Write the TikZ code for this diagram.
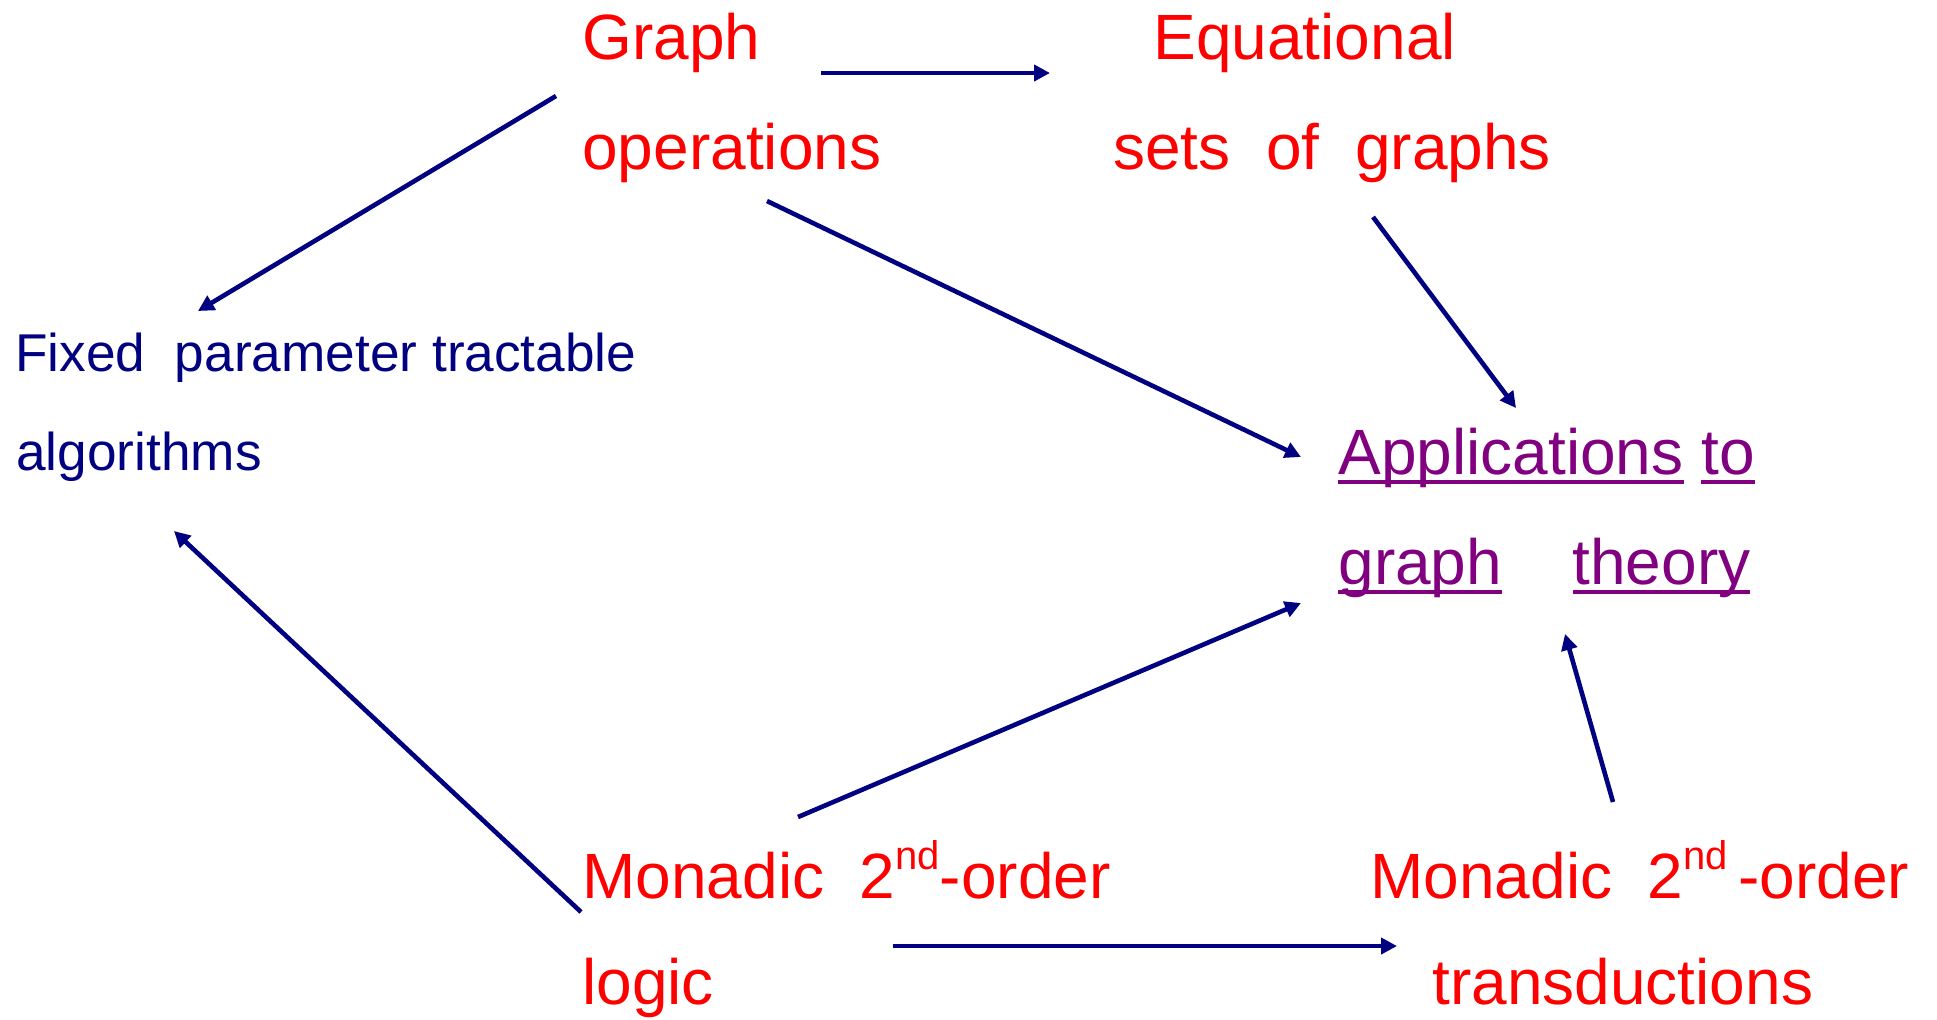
\documentclass[tikz,border=0pt]{standalone}
\usepackage{fontspec}
\setmainfont{Liberation Sans}
\usetikzlibrary{arrows.meta}
\definecolor{blu}{RGB}{0,0,128}
\definecolor{viola}{RGB}{128,0,128}
\newcommand{\sottolinea}[1]{\setbox0\hbox{#1}\rlap{\rule[-0.16em]{\wd0}{0.06em}}\box0\relax}
\newcommand{\apice}[1]{\raisebox{0.45em}{\fontsize{20}{20}\selectfont #1}}

\begin{document}
\begin{tikzpicture}[x=0.5pt, y=-0.5pt]
	% Stili: testi rossi, blu e viola, frecce blu
	\tikzset{
		titolo/.style={anchor=base west, inner sep=0pt, text=red, font=\fontsize{32}{38}\selectfont},
		blocco/.style={anchor=base west, inner sep=0pt, text=blu, font=\fontsize{26.6}{32}\selectfont},
		legame/.style={anchor=base west, inner sep=0pt, text=viola, font=\fontsize{32}{38}\selectfont},
		freccia/.style={draw=blu, line width=2.3pt, -{Triangle[length=8pt,width=8pt]}}
	}
	\useasboundingbox (0,0) rectangle (1937,1019);
	
	% Riga superiore
	\node[titolo] (graph) at (582,59) {Graph};
	\node[titolo] (ops) at (582,169) {operations};
	\node[titolo] (equ) at (1153,59) {Equational};
	\node[titolo] (sets) at (1113,169) {sets\ \ of\ \ graphs};
	
	% Centro
	\node[blocco] (fpt) at (15,371) {Fixed\ \ parameter tractable};
	\node[blocco] (algo) at (16,470) {algorithms};
	\node[legame] (appl) at (1338,474) {\sottolinea{Applications} \sottolinea{to}};
	\node[legame] (gth) at (1338,584) {\sottolinea{graph}\hspace{1.1em}\sottolinea{theory}};
	
	% Riga inferiore
	\node[titolo] (mso) at (582,898) {Monadic\ \ 2\apice{nd}-order};
	\node[titolo] (logic) at (582,1004) {logic};
	\node[titolo] (msot) at (1370,898) {Monadic\ \ 2\apice{nd}\hspace{0.16em}-order};
	\node[titolo] (trans) at (1432,1004) {transductions};
	
	% Frecce
	\draw[freccia] ([shift={(239,14)}]graph.base west) -- ([shift={(-103,14)}]equ.base west);
	\draw[freccia] ([shift={(-26,37)}]graph.base west) -- ([shift={(183,-60)}]fpt.base west);
	\draw[freccia] ([shift={(185,32)}]ops.base west) -- ([shift={(-37,-17)}]appl.base west);
	\draw[freccia] ([shift={(260,48)}]sets.base west) -- ([shift={(178,-66)}]appl.base west);
	\draw[freccia] ([shift={(216,-81)}]mso.base west) -- ([shift={(-37,19)}]gth.base west);
	\draw[freccia] ([shift={(-1,14)}]mso.base west) -- ([shift={(158,61)}]algo.base west);
	\draw[freccia] ([shift={(243,-96)}]msot.base west) -- ([shift={(227,50)}]gth.base west);
	\draw[freccia] ([shift={(311,-58)}]logic.base west) -- ([shift={(-35,-58)}]trans.base west);
	
\end{tikzpicture}
\end{document}
